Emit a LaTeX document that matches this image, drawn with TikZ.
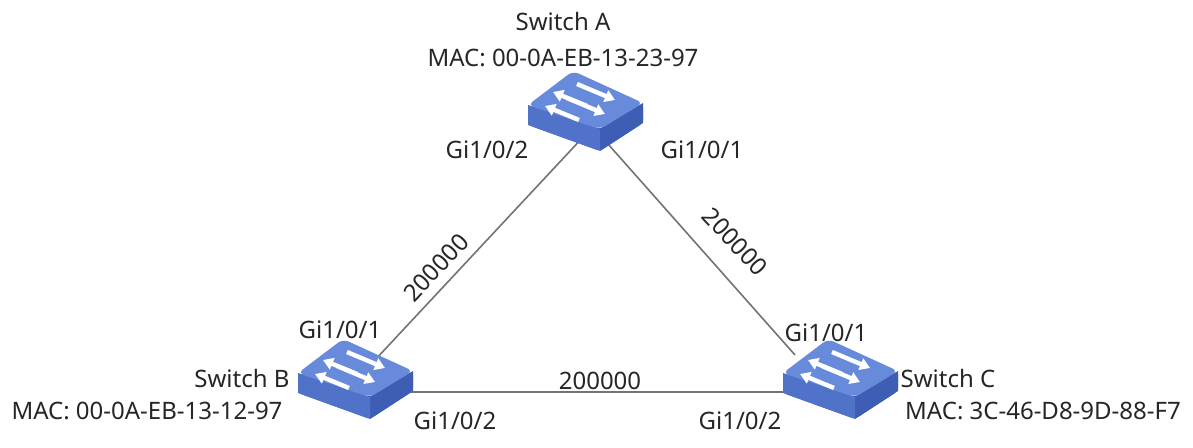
\documentclass[tikz,border=0pt]{standalone}
\usepackage{fontspec}
\setmainfont{Noto Sans}
\usetikzlibrary{arrows.meta}
\begin{document}
\begin{tikzpicture}[x=0.5pt,y=-0.5pt,
  lbl/.style={font=\fontsize{12}{13}\selectfont,text=black!85,inner sep=0},
  link/.style={draw=black!55,line width=0.8pt},
  sw/.pic={
    \fill[fill={rgb,255:red,60;green,92;blue,180},rounded corners=2pt] (-57,-7) -- (-57,13) -- (15,39) -- (58,11) -- (58,-9) -- (15,17) -- cycle;
    \fill[fill={rgb,255:red,62;green,94;blue,182}] (15,17) -- (15,39) -- (58,11) -- (58,-9) -- cycle;
    \fill[fill={rgb,255:red,80;green,114;blue,200}] (-57,-7) -- (-57,13) -- (15,39) -- (15,17) -- cycle;
    \fill[fill={rgb,255:red,104;green,138;blue,218},rounded corners=3pt] (-57,-7) -- (-12,-41) -- (58,-9) -- (15,17) -- cycle;
    \begin{scope}[draw=white,line width=2.2pt,-{Triangle[length=5pt,width=6pt]}]
      \draw (2,-6) -- (-32,-20);
      \draw (-6,8) -- (-40,-6);
      \draw (-18,-14) -- (20,2);
      \draw (-8,-28) -- (30,-12);
    \end{scope}
  }]
\useasboundingbox (0,0) rectangle (1193,448);
\coordinate (A) at (585,112);
\coordinate (B) at (355,380);
\coordinate (C) at (840,380);
\draw[link] (585,135) -- (375,360);
\draw[link] (600,135) -- (795,355);
\draw[link] (400,392) -- (790,392);
\pic at (A) {sw};
\pic at (B) {sw};
\pic at (C) {sw};
\node[lbl] (sa) at (563,22) {Switch A};
\node[lbl] (ma) at (563,58) {MAC: 00-0A-EB-13-23-97};
\node[lbl] (a2) at (487,150) {Gi1/0/2};
\node[lbl] (a1) at (702,150) {Gi1/0/1};
\node[lbl,rotate=47] (c1) at (436,268) {200000};
\node[lbl,rotate=-47] (c2) at (735,242) {200000};
\node[lbl] (c3) at (600,381) {200000};
\node[lbl] (b1) at (340,330) {Gi1/0/1};
\node[lbl] (sb) at (242,378) {Switch B};
\node[lbl] (mb) at (147,411) {MAC: 00-0A-EB-13-12-97};
\node[lbl] (b2) at (455,421) {Gi1/0/2};
\node[lbl] (cc1) at (826,333) {Gi1/0/1};
\node[lbl] (sc) at (948,378) {Switch C};
\node[lbl] (mc) at (1043,411) {MAC: 3C-46-D8-9D-88-F7};
\node[lbl] (cc2) at (740,421) {Gi1/0/2};
\end{tikzpicture}
\end{document}
